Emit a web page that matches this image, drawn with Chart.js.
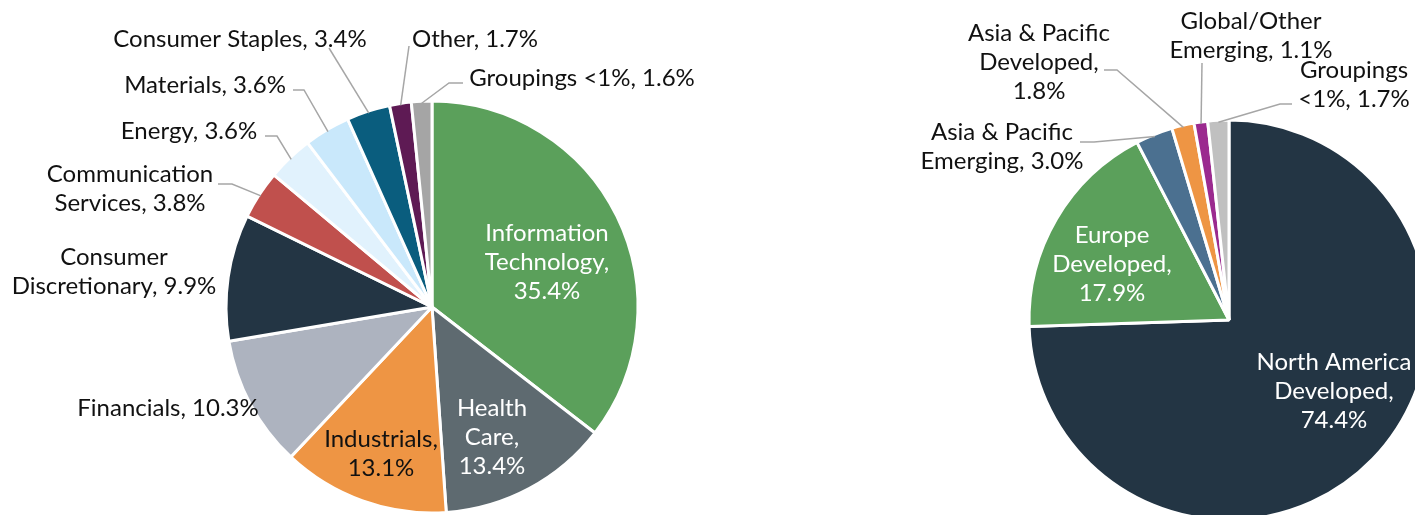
<!DOCTYPE html>
<html>
<head>
<meta charset="utf-8">
<script src="https://cdn.jsdelivr.net/npm/chart.js@4.4.0/dist/chart.umd.min.js"></script>
<style>
html, body { margin: 0; padding: 0; background: #fff; overflow: hidden; }
.pie { position: absolute; left: 0; top: 0; width: 1415px; height: 515px; }
</style>
</head>
<body>
<div class="pie"><canvas id="sectorChart"></canvas></div>
<div class="pie"><canvas id="regionChart"></canvas></div>
<script>
// sector breakdown (left pie)
var sectorLabels = ['Information Technology', 'Health Care', 'Industrials', 'Financials',
    'Consumer Discretionary', 'Communication Services', 'Energy', 'Materials',
    'Consumer Staples', 'Other', 'Groupings <1%'];
var sectorValues = [35.4, 13.4, 13.1, 10.3, 9.9, 3.8, 3.6, 3.6, 3.4, 1.7, 1.6];

// region breakdown (right pie)
var regionLabels = ['North America Developed', 'Europe Developed', 'Asia & Pacific Emerging',
    'Asia & Pacific Developed', 'Global/Other Emerging', 'Groupings <1%'];
var regionValues = [74.4, 17.9, 3.0, 1.8, 1.1, 1.7];

var sectorColors = ['#5BA05B', '#5E6A70', '#EE9544', '#ADB3BF', '#233544', '#C0504D',
    '#E1F2FD', '#C9E8FB', '#0A5D7E', '#5E1A54', '#A5A5A5'];
var regionColors = ['#233544', '#5BA05B', '#4B7090', '#EE9544', '#9B2A8F', '#C0C0C0'];

// label placement: words per line, block centre relative to the pie centre, leader elbows
var sectorLayout = [
    {wrap: [1, 1, 1], at: [115, -45], color: '#fff'},
    {wrap: [1, 1, 1], at: [60, 130], color: '#fff'},
    {wrap: [1, 1], at: [-51, 147], color: '#111'},
    {wrap: [3], at: [-264, 101], color: '#111'},
    {wrap: [1, 2], at: [-318, -35], color: '#111'},
    {wrap: [1, 2], at: [-302, -118], color: '#111', leader: [[-214, -123], [-200, -123]]},
    {wrap: [2], at: [-243, -176], color: '#111', leader: [[-167, -171], [-155, -171]]},
    {wrap: [2], at: [-227, -222], color: '#111', leader: [[-139, -217], [-128, -217]]},
    {wrap: [3], at: [-192, -268], color: '#111', leader: [[-103, -259]]},
    {wrap: [2], at: [43, -268], color: '#111', leader: [[-23, -261]]},
    {wrap: [3], at: [150, -229], color: '#111', leader: [[31, -224], [17, -224]]}
];
var regionLayout = [
    {wrap: [2, 1, 1], at: [105, 71], color: '#fff'},
    {wrap: [1, 1, 1], at: [-117, -56], color: '#fff'},
    {wrap: [3, 2], at: [-227, -173], color: '#111', leader: [[-149, -178], [-135, -178]]},
    {wrap: [3, 1, 1], at: [-190, -258], color: '#111', leader: [[-125, -250], [-112, -250]]},
    {wrap: [1, 2], at: [22, -284], color: '#111', leader: [[-27, -257]]},
    {wrap: [1, 2], at: [125, -235], color: '#111', leader: [[63, -216], [51, -216]]}
];

var pieLabels = {
    id: 'pieLabels',
    afterDatasetsDraw: function(chart, args, opts) {
        var ctx = chart.ctx;
        var arcs = chart.getDatasetMeta(0).data;
        var values = chart.data.datasets[0].data;
        ctx.save();
        ctx.font = '24px Lato';
        ctx.textAlign = 'center';
        ctx.textBaseline = 'middle';
        arcs.forEach(function(arc, i) {
            var lab = opts.layout[i];
            var p = arc.getProps(['x', 'y', 'startAngle', 'endAngle', 'outerRadius'], true);
            var mid = (p.startAngle + p.endAngle) / 2;
            var words = (chart.data.labels[i] + ', ' + values[i].toFixed(1) + '%').split(' ');
            var lines = [], k = 0;
            lab.wrap.forEach(function(n, j) {
                var end = j === lab.wrap.length - 1 ? words.length : k + n;
                lines.push(words.slice(k, end).join(' '));
                k = end;
            });
            var lh = 29;
            ctx.fillStyle = lab.color;
            lines.forEach(function(line, j) {
                ctx.fillText(line, p.x + lab.at[0], p.y + lab.at[1] + (j - (lines.length - 1) / 2) * lh);
            });
            if (lab.leader) {
                ctx.strokeStyle = '#A6A6A6';
                ctx.lineWidth = 1.5;
                ctx.beginPath();
                lab.leader.forEach(function(pt, j) {
                    if (j === 0) ctx.moveTo(p.x + pt[0], p.y + pt[1]);
                    else ctx.lineTo(p.x + pt[0], p.y + pt[1]);
                });
                ctx.lineTo(p.x + Math.cos(mid) * (p.outerRadius - 2), p.y + Math.sin(mid) * (p.outerRadius - 2));
                ctx.stroke();
            }
        });
        ctx.restore();
    }
};

function makePie(id, labels, values, colors, layout, radius, padding) {
    return new Chart(document.getElementById(id), {
        type: 'pie',
        data: {
            labels: labels,
            datasets: [{
                data: values,
                backgroundColor: colors,
                borderColor: '#fff',
                borderWidth: 3,
                radius: radius,
                clip: false
            }]
        },
        options: {
            responsive: true,
            maintainAspectRatio: false,
            animation: false,
            events: [],
            layout: {padding: padding},
            plugins: {
                legend: {display: false},
                tooltip: {enabled: false},
                pieLabels: {layout: layout}
            }
        },
        plugins: [pieLabels]
    });
}

// left pie centred at (432, 307), right pie at (1229, 320) and cut off by the frame
makePie('sectorChart', sectorLabels, sectorValues, sectorColors, sectorLayout, 206,
    {left: 0, right: 551, top: 99, bottom: 0});
makePie('regionChart', regionLabels, regionValues, regionColors, regionLayout, 200,
    {left: 1043, right: 0, top: 125, bottom: 0});
</script>
</body>
</html>
